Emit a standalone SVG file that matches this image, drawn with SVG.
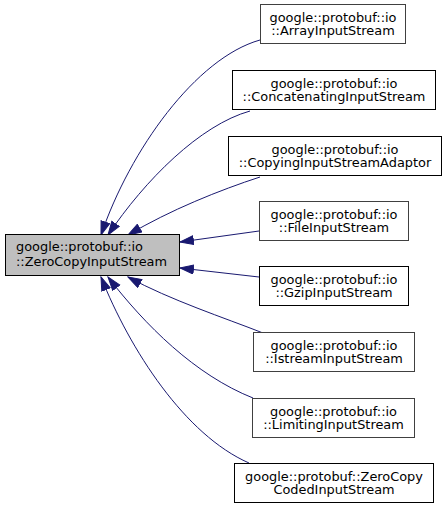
<svg xmlns="http://www.w3.org/2000/svg" width="447" height="509" viewBox="0 0 447 509">
<style>
text{font-family:"DejaVu Sans",sans-serif;font-size:12.9px;fill:#000}
.n rect{fill:#fff;stroke-width:1}
.c{text-anchor:middle}
.k{stroke:#000}
.g{stroke:#404040}
.e{fill:none;stroke:#191970;stroke-width:1;marker-end:url(#ah)}
</style>
<defs>
<marker id="ah" markerUnits="userSpaceOnUse" markerWidth="15" markerHeight="11" refX="14" refY="5" orient="auto">
<path d="M0.5,0.5 L14,5 L0.5,9.5 Z" fill="#191970" stroke="#191970" stroke-width="1"/>
</marker>
</defs>
<rect width="447" height="509" fill="#fff"/>
<g id="edges">
<path class="e" d="M260,40 C196,58 130,150 101,235"/>
<path class="e" d="M250,111 C200,125 145,180 108,235"/>
<path class="e" d="M260,177 C220,190 170,210 128,235"/>
<path class="e" d="M259,231 L180,242"/>
<path class="e" d="M259,277 L180,268"/>
<path class="e" d="M263,333 C225,318 170,300 128,277"/>
<path class="e" d="M253,398 C195,375 145,325 108,277"/>
<path class="e" d="M249,463 C185,435 130,350 101,277"/>
</g>
<g id="main" class="n">
<rect x="5.5" y="234.5" width="174" height="41" style="fill:#bfbfbf;stroke:#000"/>
<text x="16" y="250.5">google::protobuf::io</text>
<text x="16" y="265.5">::ZeroCopyInputStream</text>
</g>
<g id="array" class="n">
<rect class="g" x="260.5" y="4.5" width="145" height="39"/>
<text class="c" x="333" y="21.5">google::protobuf::io</text>
<text class="c" x="333" y="35">::ArrayInputStream</text>
</g>
<g id="concat" class="n">
<rect class="k" x="232.5" y="70.5" width="203" height="39"/>
<text class="c" x="334" y="87.5">google::protobuf::io</text>
<text class="c" x="334" y="101">::ConcatenatingInputStream</text>
</g>
<g id="copying" class="n">
<rect class="k" x="228.5" y="136.5" width="213" height="39"/>
<text class="c" x="335" y="153.5">google::protobuf::io</text>
<text class="c" x="335" y="167">::CopyingInputStreamAdaptor</text>
</g>
<g id="file" class="n">
<rect class="g" x="259.5" y="201.5" width="149" height="39"/>
<text class="c" x="334" y="218.5">google::protobuf::io</text>
<text class="c" x="334" y="232">::FileInputStream</text>
</g>
<g id="gzip" class="n">
<rect class="k" x="259.5" y="266.5" width="149" height="39"/>
<text class="c" x="334" y="283.5">google::protobuf::io</text>
<text class="c" x="334" y="297">::GzipInputStream</text>
</g>
<g id="istream" class="n">
<rect class="g" x="253.5" y="332.5" width="161" height="39"/>
<text class="c" x="334" y="349.5">google::protobuf::io</text>
<text class="c" x="334" y="363">::IstreamInputStream</text>
</g>
<g id="limiting" class="n">
<rect class="g" x="252.5" y="398.5" width="162" height="39"/>
<text class="c" x="333.5" y="415.5">google::protobuf::io</text>
<text class="c" x="333.5" y="429">::LimitingInputStream</text>
</g>
<g id="coded" class="n">
<rect class="k" x="234.5" y="463.5" width="199" height="39"/>
<text class="c" x="334" y="480.5">google::protobuf::ZeroCopy</text>
<text class="c" x="334" y="494">CodedInputStream</text>
</g>
</svg>
